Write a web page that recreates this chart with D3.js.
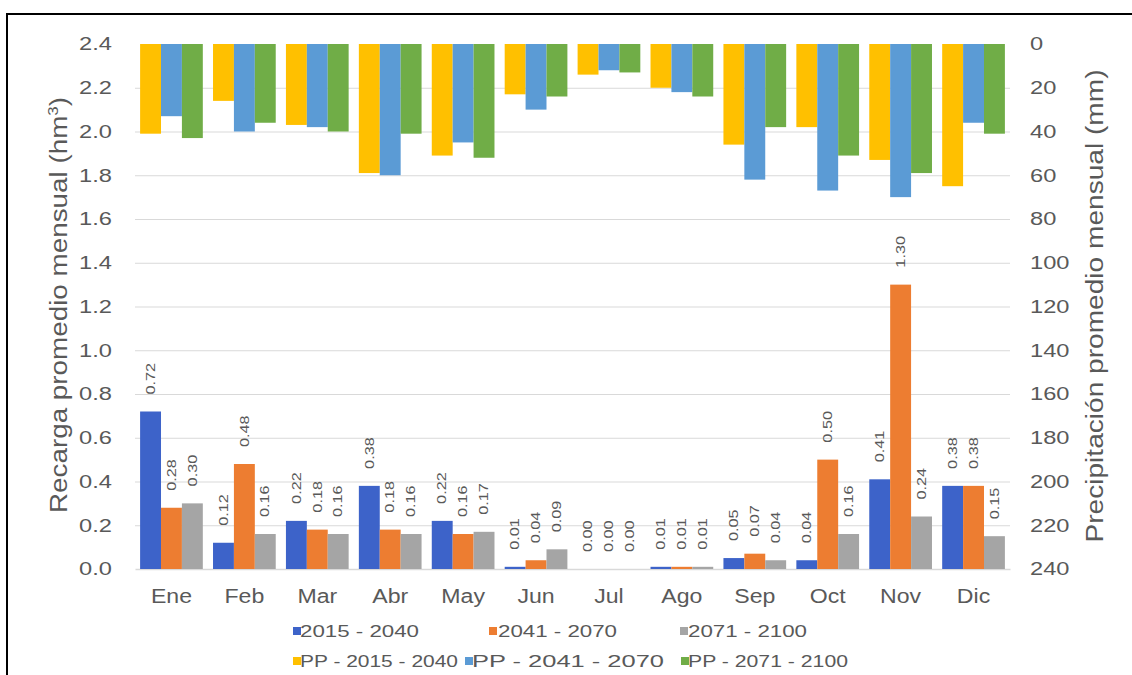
<!DOCTYPE html>
<html>
<head>
<meta charset="utf-8">
<script src="https://cdn.jsdelivr.net/npm/d3@7"></script>
<style>
  body { margin: 0; background: #fff; }
  svg { display: block; font-family: "Liberation Sans", Arial, sans-serif; }
</style>
</head>
<body>
<svg id="chart" width="1132" height="675"></svg>
<script>
// Months on the category axis
const months = ["Ene", "Feb", "Mar", "Abr", "May", "Jun", "Jul", "Ago", "Sep", "Oct", "Nov", "Dic"];

// Mean monthly recharge (hm³) per period
const recargaSeries = ["2015 - 2040", "2041 - 2070", "2071 - 2100"];
const recarga2015 = [0.72, 0.12, 0.22, 0.38, 0.22, 0.01, 0.00, 0.01, 0.05, 0.04, 0.41, 0.38];
const recarga2041 = [0.28, 0.48, 0.18, 0.18, 0.16, 0.04, 0.00, 0.01, 0.07, 0.50, 1.30, 0.38];
const recarga2071 = [0.30, 0.16, 0.16, 0.16, 0.17, 0.09, 0.00, 0.01, 0.04, 0.16, 0.24, 0.15];

// Mean monthly precipitation (mm) per period, hanging from the top
const ppSeries = ["PP - 2015 - 2040", "PP - 2041 - 2070", "PP - 2071 - 2100"];
const pp2015 = [41, 26, 37, 59, 51, 23, 14, 20, 46, 38, 53, 65];
const pp2041 = [33, 40, 38, 60, 45, 30, 12, 22, 62, 67, 70, 36];
const pp2071 = [43, 36, 40, 41, 52, 24, 13, 24, 38, 51, 59, 41];

// Axis ticks
const leftTicks = [0.0, 0.2, 0.4, 0.6, 0.8, 1.0, 1.2, 1.4, 1.6, 1.8, 2.0, 2.2, 2.4];
const rightTicks = [0, 20, 40, 60, 80, 100, 120, 140, 160, 180, 200, 220, 240];

const leftTitle = "Recarga promedio mensual (hm";
const rightTitle = "Precipitación promedio mensual (mm)";

// ---- styling / layout ----
const recargaColors = ["#3D63C9", "#ED7D31", "#A5A5A5"];
const ppColors = ["#FFC000", "#5B9BD5", "#70AD47"];
const textColor = "#595959";
const gridColor = "#D9D9D9";
const plot = { left: 135, right: 1010, top: 44, bottom: 569 };

const svg = d3.select("#chart");

// frame around the figure
svg.append("rect")
  .attr("x", 7).attr("y", 14).attr("width", 1200).attr("height", 700)
  .attr("fill", "none").attr("stroke", "#000").attr("stroke-width", 2);

const x0 = d3.scaleBand().domain(months).range([plot.left, plot.right])
  .paddingInner(0.14).paddingOuter(0.07);
const x1 = d3.scaleBand().domain([0, 1, 2]).range([0, x0.bandwidth()]);
const yL = d3.scaleLinear().domain([0, 2.4]).range([plot.bottom, plot.top]);
const yR = d3.scaleLinear().domain([0, 240]).range([plot.top, plot.bottom]);

// horizontal gridlines
svg.append("g")
  .attr("transform", `translate(${plot.left},0)`)
  .call(d3.axisLeft(yL)
    .tickValues(leftTicks.filter(v => v > 0 && v < 2.4))
    .tickSize(-(plot.right - plot.left))
    .tickFormat(""))
  .call(g => g.select(".domain").remove())
  .selectAll("line").attr("stroke", gridColor).attr("stroke-width", 1);

// left axis labels
svg.append("g")
  .attr("transform", `translate(${plot.left},0)`)
  .call(d3.axisLeft(yL).tickValues(leftTicks).tickFormat(d3.format(".1f")).tickSize(0).tickPadding(0))
  .call(g => g.select(".domain").remove())
  .selectAll("text")
  .attr("x", null)
  .attr("transform", "translate(-23,0) scale(1.28,1)")
  .attr("font-size", 18.5)
  .attr("font-family", "Liberation Sans, Arial, sans-serif")
  .attr("fill", textColor);

// right axis labels
svg.append("g")
  .attr("transform", "translate(1030,0)")
  .call(d3.axisRight(yR).tickValues(rightTicks).tickFormat(d3.format("d")).tickSize(0).tickPadding(0))
  .call(g => g.select(".domain").remove())
  .selectAll("text")
  .attr("x", null)
  .attr("transform", "scale(1.28,1)")
  .attr("font-size", 18.5)
  .attr("font-family", "Liberation Sans, Arial, sans-serif")
  .attr("fill", textColor);

// category axis
svg.append("g")
  .attr("transform", `translate(0,${plot.bottom})`)
  .call(d3.axisBottom(x0).tickSize(0).tickSizeOuter(0).tickPadding(0))
  .call(g => g.select(".domain").attr("stroke", gridColor).attr("stroke-width", 1.5))
  .selectAll("text")
  .attr("y", null)
  .attr("transform", "translate(0,19) scale(1.1,1)")
  .attr("font-size", 21)
  .attr("font-family", "Liberation Sans, Arial, sans-serif")
  .attr("fill", textColor);

// recharge bars (left scale)
const recargaData = [recarga2015, recarga2041, recarga2071];
recargaData.forEach((vals, s) => {
  const g = svg.append("g");
  g.selectAll("rect").data(vals).join("rect")
    .attr("x", (d, i) => x0(months[i]) + x1(s))
    .attr("y", d => yL(d))
    .attr("width", x1.bandwidth())
    .attr("height", d => yL(0) - yL(d))
    .attr("fill", recargaColors[s]);
  g.selectAll("text").data(vals).join("text")
    .attr("transform", (d, i) =>
      `translate(${x0(months[i]) + x1(s) + x1.bandwidth() / 2},${yL(d) - 17}) rotate(-90) scale(1.35,1)`)
    .attr("dy", "0.35em")
    .attr("text-anchor", "start")
    .attr("font-size", 12)
    .attr("fill", textColor)
    .text(d => d3.format(".2f")(d));
});

// precipitation bars (right scale, hanging from the top)
const ppData = [pp2015, pp2041, pp2071];
ppData.forEach((vals, s) => {
  svg.append("g").selectAll("rect").data(vals).join("rect")
    .attr("x", (d, i) => x0(months[i]) + x1(s))
    .attr("y", yR(0))
    .attr("width", x1.bandwidth())
    .attr("height", d => yR(d) - yR(0))
    .attr("fill", ppColors[s]);
});

// axis titles
const lt = svg.append("text")
  .attr("transform", "translate(67,305) rotate(-90)")
  .attr("text-anchor", "middle")
  .attr("font-size", 23)
  .attr("fill", textColor)
  .attr("textLength", 416)
  .attr("lengthAdjust", "spacingAndGlyphs");
lt.append("tspan").text(leftTitle);
lt.append("tspan").attr("dy", -9).attr("font-size", 14).text("3");
lt.append("tspan").attr("dy", 9).text(")");

svg.append("text")
  .attr("transform", "translate(1103,306) rotate(-90)")
  .attr("text-anchor", "middle")
  .attr("font-size", 23)
  .attr("fill", textColor)
  .attr("textLength", 473)
  .attr("lengthAdjust", "spacingAndGlyphs")
  .text(rightTitle);

// legend
const legendItems = [
  { name: recargaSeries[0], color: recargaColors[0], sq: 293, tx: 300, len: 119, y: 631 },
  { name: recargaSeries[1], color: recargaColors[1], sq: 489, tx: 498, len: 119, y: 631 },
  { name: recargaSeries[2], color: recargaColors[2], sq: 680, tx: 688, len: 119, y: 631 },
  { name: ppSeries[0], color: ppColors[0], sq: 293, tx: 300, len: 158, y: 661 },
  { name: ppSeries[1], color: ppColors[1], sq: 465, tx: 472, len: 192, y: 661 },
  { name: ppSeries[2], color: ppColors[2], sq: 681, tx: 688, len: 160, y: 661 }
];
const lg = svg.append("g").selectAll("g").data(legendItems).join("g");
lg.append("rect")
  .attr("x", d => d.sq).attr("y", d => d.y - 4)
  .attr("width", 8).attr("height", 8)
  .attr("fill", d => d.color);
lg.append("text")
  .attr("x", d => d.tx).attr("y", d => d.y)
  .attr("dy", "0.35em")
  .attr("font-size", 17)
  .attr("fill", textColor)
  .attr("textLength", d => d.len)
  .attr("lengthAdjust", "spacingAndGlyphs")
  .text(d => d.name);
</script>
</body>
</html>
